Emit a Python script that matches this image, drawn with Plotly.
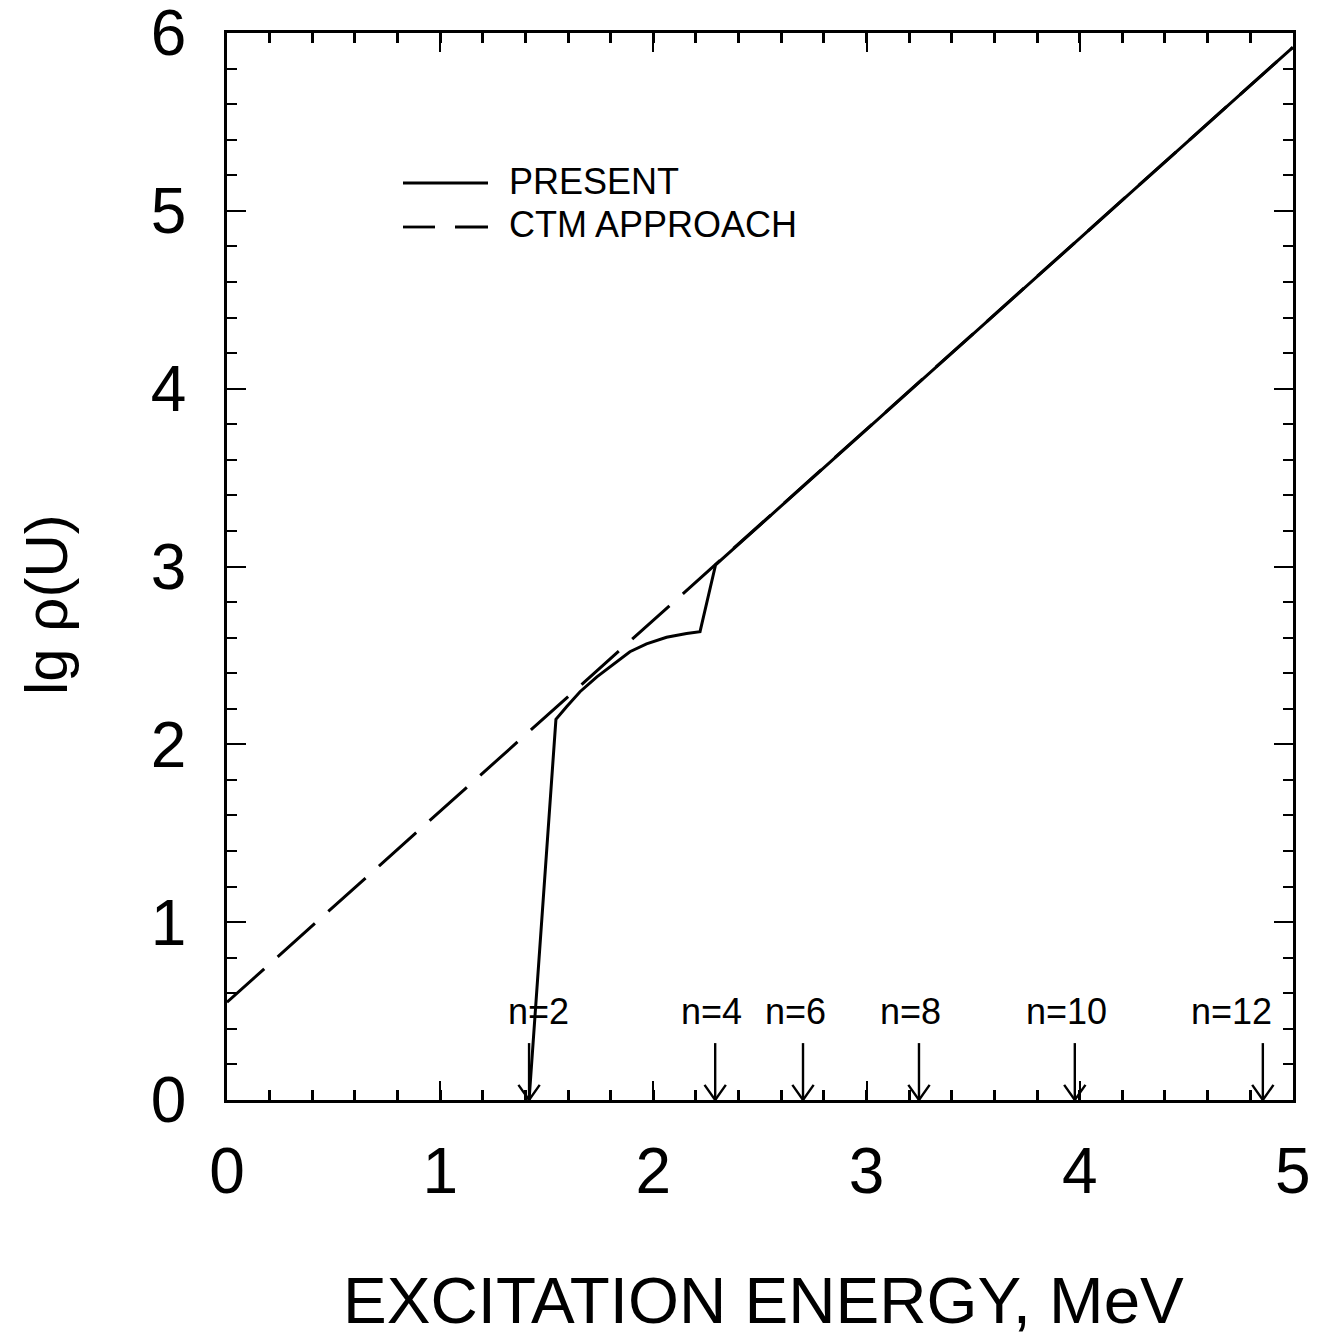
import plotly.graph_objects as go

# ---- data ----
present_x = [1.417, 1.543, 1.593, 1.656, 1.735, 1.812, 1.890, 1.968, 2.062, 2.156, 2.219, 2.292, 5.0]
present_y = [0.0, 2.141, 2.212, 2.296, 2.380, 2.452, 2.521, 2.565, 2.602, 2.623, 2.634, 3.01, 5.92]

ctm_x = [0.0, 5.0]
ctm_y = [0.55, 5.92]

arrow_labels = ["n=2", "n=4", "n=6", "n=8", "n=10", "n=12"]
arrow_x = [1.417, 2.29, 2.702, 3.246, 3.977, 4.859]
label_x = [1.459, 2.275, 2.669, 3.204, 3.937, 4.714]

x_ticks = [0, 1, 2, 3, 4, 5]
y_ticks = [0, 1, 2, 3, 4, 5, 6]

FONT = "Liberation Sans, Arial, sans-serif"
ARROW_TOP = 0.32
LABEL_Y = 0.50
HEAD_DX = 0.05
HEAD_DY = 0.085

fig = go.Figure()

fig.add_trace(go.Scatter(x=ctm_x, y=ctm_y, mode="lines",
                         line=dict(color="black", width=3, dash="50px,18px"),
                         showlegend=False, hoverinfo="skip"))
fig.add_trace(go.Scatter(x=present_x, y=present_y, mode="lines",
                         line=dict(color="black", width=3),
                         showlegend=False, hoverinfo="skip"))

# arrows (shaft + open V head) built from arrow_x
ax, ay = [], []
for xv in arrow_x:
    ax += [xv, xv, None, xv - HEAD_DX, xv, xv + HEAD_DX, None]
    ay += [ARROW_TOP, 0, None, HEAD_DY, 0, HEAD_DY, None]
fig.add_trace(go.Scatter(x=ax, y=ay, mode="lines",
                         line=dict(color="black", width=2.4),
                         showlegend=False, hoverinfo="skip"))

for lab, lx in zip(arrow_labels, label_x):
    fig.add_annotation(x=lx, y=LABEL_Y, text=lab, showarrow=False,
                       xanchor="center", yanchor="middle",
                       font=dict(family=FONT, size=36, color="black"))

# custom legend
LEG_Y1, LEG_Y2 = 183, 227
fig.add_shape(type="line", xref="paper", yref="paper",
              x0=(403 - 227) / 1066, x1=(488 - 227) / 1066,
              y0=(1100 - LEG_Y1) / 1067, y1=(1100 - LEG_Y1) / 1067,
              line=dict(color="black", width=2.8))
for xa, xb in [(403, 435), (455, 488)]:
    fig.add_shape(type="line", xref="paper", yref="paper",
                  x0=(xa - 227) / 1066, x1=(xb - 227) / 1066,
                  y0=(1100 - LEG_Y2) / 1067, y1=(1100 - LEG_Y2) / 1067,
                  line=dict(color="black", width=2.8))
for txt, py in [("PRESENT", LEG_Y1 - 2), ("CTM APPROACH", LEG_Y2 - 2)]:
    fig.add_annotation(xref="paper", yref="paper",
                       x=(507 - 227) / 1066, y=(1100 - py) / 1067,
                       text=txt, showarrow=False, xanchor="left", yanchor="middle",
                       font=dict(family=FONT, size=36, color="black"))

# axis titles
fig.add_annotation(xref="paper", yref="paper", x=(763 - 227) / 1066, y=(1100 - 1300) / 1067,
                   text="EXCITATION ENERGY, MeV", showarrow=False,
                   xanchor="center", yanchor="middle",
                   font=dict(family=FONT, size=65.5, color="black"))
fig.add_annotation(xref="paper", yref="paper", x=(46 - 227) / 1066, y=(1100 - 605) / 1067,
                   text="lg \u03c1(U)", showarrow=False, textangle=-90,
                   xanchor="center", yanchor="middle",
                   font=dict(family=FONT, size=60, color="black"))

axis_common = dict(showline=True, linecolor="black", linewidth=2.8, mirror="ticks",
                   ticks="inside", ticklen=19, tickwidth=2, tickcolor="black",
                   showgrid=False, zeroline=False, ticklabeloverflow="allow",
                   automargin=False,
                   tickfont=dict(family=FONT, size=64, color="black"))

fig.update_xaxes(range=[0, 5.0005], tickvals=x_ticks, ticktext=[str(v) for v in x_ticks],
                 minor=dict(dtick=0.2, ticks="inside", ticklen=10, tickwidth=2.5,
                            tickcolor="black", showgrid=False),
                 ticklabelstandoff=13, **axis_common)
fig.update_yaxes(range=[0, 6.0005], tickvals=y_ticks, ticktext=[str(v) for v in y_ticks],
                 minor=dict(dtick=0.2, ticks="inside", ticklen=10, tickwidth=2,
                            tickcolor="black", showgrid=False),
                 ticklabelstandoff=25, **axis_common)

fig.update_layout(width=1327, height=1337,
                  margin=dict(l=227, r=34, t=33, b=237, pad=0, autoexpand=False),
                  paper_bgcolor="white", plot_bgcolor="white",
                  showlegend=False)

fig.write_html("out.html")
